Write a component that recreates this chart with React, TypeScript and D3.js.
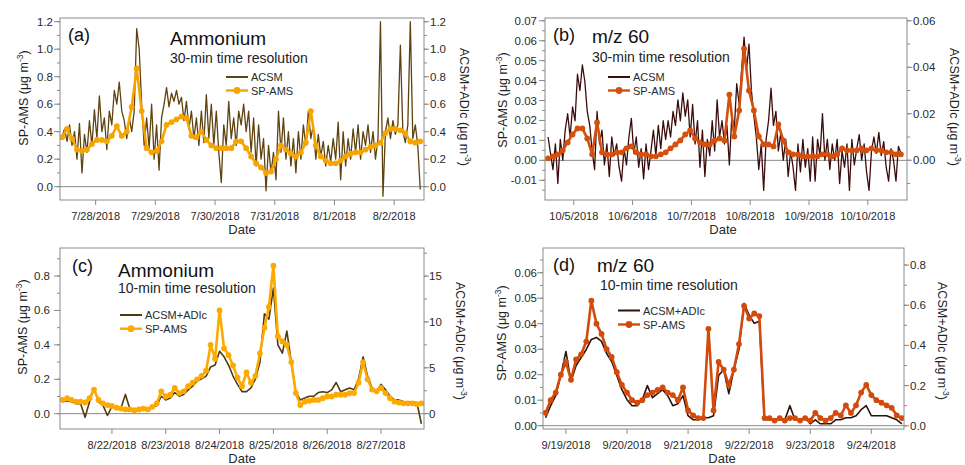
import React from 'react'
import * as d3 from 'd3'

// ---- values ----
// (a) ammonium, 30-min: ACSM hourly from 7/27 10:30, SP-AMS every 2 h
const acsmA = [
  0.36, 0.42, 0.33, 0.45, 0.3, 0.4, 0.2, 0.46, 0.1, 0.38,
  0.25, 0.48, 0.3, 0.56, 0.35, 0.66, 0.4, 0.5, 0.27, 0.55,
  0.45, 0.7, 0.6, 0.76, 0.55, 0.48, 0.35, 0.5, 0.4, 0.55,
  1.15, 1.0, 0.6, 0.3, 0.5, 0.28, 0.6, 0.2, 0.45, 0.12,
  0.5, 0.6, 0.72, 0.58, 0.68, 0.62, 0.7, 0.6, 0.65, 0.48,
  0.62, 0.42, 0.55, 0.35, 0.5, 0.3, 0.55, 0.32, 0.67, 0.35,
  0.6, 0.3, 0.55, 0.25, 0.03, 0.45, 0.3, 0.62, 0.35, 0.5,
  0.3, 0.55, 0.45, 0.6, 0.4, 0.55, 0.25, 0.5, 0.15, 0.45,
  0.2, 0.35, -0.03, 0.3, 0.1, 0.25, 0.05, 0.55, 0.25, 0.5,
  0.2, 0.4, 0.15, 0.35, 0.1, 0.4, 0.2, 0.45, 0.3, 0.55,
  0.35, 0.45, 0.2, 0.38, 0.22, 0.33, 0.15, 0.3, 0.18, 0.35,
  0.2, 0.47, 0.05, 0.4, 0.15, 0.35, 0.2, 0.42, 0.25, 0.45,
  0.2, 0.4, 0.3, 0.45, 0.25, 0.4, 0.2, 0.35, 1.2, -0.07,
  0.4, 0.5, 0.35, 0.48, 0.38, 0.45, 1.03, 0.4, 0.32, 0.45,
  1.2, 0.35, 0.45, 0.3, -0.02,
]
const spamsA = [
  0.36, 0.42, 0.35, 0.27, 0.26, 0.27, 0.31, 0.34, 0.34, 0.33,
  0.37, 0.44, 0.37, 0.4, 0.58, 0.86, 0.55, 0.28, 0.25, 0.26,
  0.33, 0.45, 0.47, 0.49, 0.51, 0.5, 0.37, 0.36, 0.4, 0.34,
  0.3, 0.28, 0.28, 0.28, 0.28, 0.33, 0.33, 0.28, 0.22, 0.17,
  0.14, 0.1, 0.11, 0.2, 0.3, 0.27, 0.24, 0.22, 0.25, 0.32,
  0.55, 0.3, 0.22, 0.19, 0.17, 0.17, 0.19, 0.22, 0.24, 0.25,
  0.25, 0.27, 0.29, 0.3, 0.32, 0.39, 0.42, 0.42, 0.41, 0.39,
  0.33, 0.32, 0.33,
]

// (b) m/z 60, 30-min: ACSM hourly from 10/4 13:30 (right axis), SP-AMS every 2 h
const acsmB = [
  0.010, 0.003, -0.004, 0.007, -0.010, 0.009, 0.0, 0.013, 0.020, 0.010,
  0.023, 0.017, 0.037, 0.030, 0.041, 0.034, 0.021, 0.015, 0.004, -0.004,
  0.021, 0.007, 0.013, -0.002, 0.007, -0.007, 0.010, 0.002, 0.007, -0.003,
  -0.009, 0.005, -0.002, 0.010, 0.018, 0.003, 0.010, -0.003, 0.005, -0.008,
  0.007, -0.004, 0.004, 0.013, 0.002, 0.015, 0.005, 0.017, 0.009, 0.017,
  0.010, 0.021, 0.015, 0.026, 0.017, 0.029, 0.019, 0.026, 0.010, 0.024,
  0.007, 0.017, -0.003, 0.013, -0.007, 0.009, 0.002, 0.017, 0.004, 0.026,
  0.010, 0.017, 0.007, 0.015, -0.002, 0.019, 0.013, 0.033, 0.024, 0.039,
  0.053, 0.039, 0.050, 0.030, 0.019, 0.010, -0.004, 0.007, -0.013, 0.009,
  0.017, 0.031, 0.015, 0.021, 0.004, 0.012, 0.0, 0.009, -0.007, 0.004,
  -0.003, -0.013, 0.007, -0.005, 0.009, -0.003, 0.005, -0.009, 0.010, -0.009,
  0.009, 0.002, 0.020, 0.0, 0.009, -0.004, 0.007, 0.0, 0.009, -0.010,
  0.004, -0.003, 0.007, -0.013, 0.009, -0.002, 0.005, 0.011, 0.0, 0.007,
  -0.005, -0.013, 0.004, 0.010, 0.003, 0.012, 0.002, 0.008, -0.003, -0.009,
  0.005, 0.0, -0.009, 0.006, 0.003,
]
const spamsB = [
  0.001, 0.002, 0.003, 0.005, 0.009, 0.013, 0.016, 0.016, 0.011, 0.003,
  0.019, 0.004, 0.003, 0.003, 0.004, 0.004, 0.006, 0.007, 0.004, 0.003,
  0.003, 0.002, 0.002, 0.003, 0.004, 0.006, 0.008, 0.01, 0.013, 0.015,
  0.011, 0.009, 0.008, 0.008, 0.01, 0.011, 0.01, 0.033, 0.012, 0.025,
  0.056, 0.035, 0.025, 0.012, 0.008, 0.008, 0.007, 0.018, 0.01, 0.004,
  0.003, 0.003, 0.002, 0.002, 0.002, 0.002, 0.003, 0.003, 0.002, 0.003,
  0.006, 0.005, 0.005, 0.005, 0.006, 0.005, 0.006, 0.005, 0.005, 0.004,
  0.004, 0.003, 0.003,
]

// (c) ammonium, 10-min: both every 2 h from 8/21 02:00; ACSM+ADIc on right axis
const acsmC = [
  1.3, 1.4, 1.3, 1.1, 1.1, -0.4, 1.3, 2.8, 1.3, 0.9,
  -0.2, 0.8, 0.6, 0.6, 2.1, 0.5, 0.4, 0.4, 0.5, 0.4,
  0.7, 0.9, 1.9, 1.5, 1.7, 2.3, 1.9, 2.1, 2.6, 3.0,
  3.6, 3.8, 4.1, 5.1, 5.3, 6.8, 6.2, 5.3, 4.1, 3.2,
  2.4, 2.4, 2.8, 3.8, 5.6, 10.9, 10.3, 13.7, 7.5, 6.6,
  9.0, 5.6, 2.3, 1.5, 1.7, 1.9, 1.9, 2.3, 2.4, 2.3,
  2.6, 3.4, 2.4, 2.6, 2.8, 2.6, 3.8, 6.2, 4.1, 2.8,
  2.4, 3.2, 2.6, 1.9, 1.5, 1.5, 1.3, 1.3, 1.3, 1.2,
  -1.1,
]
const spamsC = [
  0.08, 0.09, 0.08, 0.07, 0.07, 0.065, 0.09, 0.14, 0.08, 0.06,
  0.05, 0.045, 0.035, 0.03, 0.025, 0.025, 0.02, 0.025, 0.03, 0.025,
  0.04, 0.06, 0.13, 0.1, 0.11, 0.15, 0.12, 0.13, 0.16, 0.18,
  0.2, 0.22, 0.25, 0.4, 0.32, 0.6, 0.38, 0.34, 0.28, 0.21,
  0.16, 0.24, 0.18, 0.22, 0.35, 0.5, 0.62, 0.86, 0.45, 0.42,
  0.4, 0.3, 0.12, 0.05, 0.07, 0.075, 0.08, 0.08, 0.09, 0.1,
  0.1, 0.11, 0.11, 0.11, 0.12, 0.12, 0.18, 0.3, 0.2, 0.14,
  0.13, 0.15, 0.12, 0.09, 0.07, 0.065, 0.06, 0.06, 0.06, 0.055,
  0.06,
]

// (d) m/z 60, 10-min: both every 2 h from 9/18 16:00; ACSM+ADIc on right axis
const acsmD = [
  0.04, 0.1, 0.15, 0.25, 0.37, 0.22, 0.3, 0.34, 0.38, 0.43,
  0.44, 0.42, 0.36, 0.32, 0.25, 0.18, 0.13, 0.1, 0.1, 0.13,
  0.2, 0.14, 0.16, 0.18, 0.15, 0.1, 0.11, 0.15, 0.05, 0.03,
  0.03, 0.04, 0.04, 0.05, 0.25, 0.28, 0.16, 0.28, 0.38, 0.61,
  0.55, 0.51, 0.52, 0.03, 0.03, 0.03, 0.03, 0.03, 0.1, 0.03,
  0.03, 0.04, 0.01, 0.03, 0.01, 0.01, 0.01, 0.03, 0.03, 0.04,
  0.04, 0.05, 0.08, 0.1, 0.05, 0.05, 0.05, 0.05, 0.04, 0.03,
  0.01,
]
const spamsD = [
  0.005, 0.01, 0.013, 0.02, 0.025, 0.018, 0.026, 0.028, 0.033, 0.049,
  0.04, 0.036, 0.03, 0.027, 0.021, 0.016, 0.013, 0.01, 0.009, 0.01,
  0.012, 0.013, 0.014, 0.015, 0.013, 0.012, 0.01, 0.015, 0.006, 0.004,
  0.003, 0.003, 0.038, 0.006, 0.025, 0.022, 0.016, 0.022, 0.032, 0.047,
  0.042, 0.044, 0.043, 0.003, 0.003, 0.002, 0.003, 0.002, 0.003, 0.003,
  0.002, 0.003, 0.002, 0.005, 0.003, 0.002, 0.003, 0.005, 0.004, 0.008,
  0.005, 0.008, 0.013, 0.016, 0.012, 0.01, 0.009, 0.008, 0.007, 0.004,
  0.003,
]

// axis ticks
const dateTicksA = ['7/28/2018', '7/29/2018', '7/30/2018', '7/31/2018', '8/1/2018', '8/2/2018']
const dateTicksB = ['10/5/2018', '10/6/2018', '10/7/2018', '10/8/2018', '10/9/2018', '10/10/2018']
const dateTicksC = ['8/22/2018', '8/23/2018', '8/24/2018', '8/25/2018', '8/26/2018', '8/27/2018']
const dateTicksD = ['9/19/2018', '9/20/2018', '9/21/2018', '9/22/2018', '9/23/2018', '9/24/2018']
const yTicksA = [0, 0.2, 0.4, 0.6, 0.8, 1.0, 1.2]
const yTicksBLeft = [-0.01, 0, 0.01, 0.02, 0.03, 0.04, 0.05, 0.06, 0.07]
const yTicksBRight = [0, 0.02, 0.04, 0.06]
const yTicksCLeft = [0, 0.2, 0.4, 0.6, 0.8]
const yTicksCRight = [0, 5, 10, 15]
const yTicksDLeft = [0, 0.01, 0.02, 0.03, 0.04, 0.05, 0.06]
const yTicksDRight = [0, 0.2, 0.4, 0.6, 0.8]

const FONT = '"Liberation Sans", Arial, Helvetica, sans-serif'
const parseTick = d3.timeParse('%m/%d/%Y')
const dt = (m: number, d: number, h: number, mi = 0) => new Date(2018, m - 1, d, h, mi)

const panels = [
  {
    id: 'a', l: 60, r: 424, t: 18, b: 200,
    xDomain: [dt(7, 27, 9, 40), dt(8, 2, 12, 0)],
    yLeft: [-0.097, 1.227], yRight: [-0.097, 1.227],
    leftTicks: yTicksA, leftMinor: 0.1, leftFmt: (v: number) => v.toFixed(1), leftGap: 7,
    rightTicks: yTicksA, rightMinor: 0.1, rightFmt: (v: number) => v.toFixed(1), rightGap: 6,
    dateTicks: dateTicksA,
    acsm: { start: dt(7, 27, 10, 30), step: 1, values: acsmA }, acsmW: 1.3,
    sp: { start: dt(7, 27, 10, 30), step: 2, values: spamsA },
    acsmColor: '#5e4210', spColor: '#f6a500',
    tag: '(a)', tagXY: [68, 41], title: 'Ammonium', titleXY: [170, 45],
    sub: '30-min time resolution', subXY: [170, 63],
    legendName: 'ACSM', legX: 226, legY: 77, legDy: 13.5,
    yTitleL: [28, 98], yTitleR: [459.5, 107], dateXY: [242, 234],
  },
  {
    id: 'b', l: 545, r: 907, t: 18, b: 200,
    xDomain: [dt(10, 4, 12, 15), dt(10, 10, 16, 0)],
    yLeft: [-0.0199, 0.0714], yRight: [-0.0171, 0.0612],
    leftTicks: yTicksBLeft, leftMinor: 0.005, leftFmt: (v: number) => v.toFixed(2), leftGap: 8,
    rightTicks: yTicksBRight, rightMinor: 0.01, rightFmt: (v: number) => v.toFixed(2), rightGap: 6,
    dateTicks: dateTicksB,
    acsm: { start: dt(10, 4, 13, 30), step: 1, values: acsmB }, acsmW: 1.3,
    sp: { start: dt(10, 4, 13, 30), step: 2, values: spamsB },
    acsmColor: '#3a0c0c', spColor: '#d3500f',
    tag: '(b)', tagXY: [553, 41], title: 'm/z 60', titleXY: [592, 43],
    sub: '30-min time resolution', subXY: [592, 61.5],
    legendName: 'ACSM', legX: 608, legY: 77, legDy: 13.5,
    yTitleL: [506.5, 100], yTitleR: [950, 107], dateXY: [723, 234],
  },
  {
    id: 'c', l: 60, r: 424, t: 248, b: 429,
    xDomain: [dt(8, 21, 0, 50), dt(8, 27, 19, 10)],
    yLeft: [-0.089, 0.963], yRight: [-1.67, 18.06],
    leftTicks: yTicksCLeft, leftMinor: 0.1, leftFmt: (v: number) => v.toFixed(1), leftGap: 10,
    rightTicks: yTicksCRight, rightMinor: 2.5, rightFmt: (v: number) => String(v), rightGap: 5,
    dateTicks: dateTicksC,
    acsm: { start: dt(8, 21, 2, 0), step: 2, values: acsmC }, acsmW: 1.6,
    sp: { start: dt(8, 21, 2, 0), step: 2, values: spamsC },
    acsmColor: '#4f3a10', spColor: '#fcaa00',
    tag: '(c)', tagXY: [72, 272], title: 'Ammonium', titleXY: [118, 276.5],
    sub: '10-min time resolution', subXY: [118, 293],
    legendName: 'ACSM+ADIc', legX: 120, legY: 315, legDy: 13.7,
    yTitleL: [26.5, 327], yTitleR: [456, 341], dateXY: [242, 463],
  },
  {
    id: 'd', l: 543, r: 904, t: 248, b: 429,
    xDomain: [dt(9, 18, 15, 0), dt(9, 24, 12, 50)],
    yLeft: [-0.0013, 0.0697], yRight: [-0.016, 0.885],
    leftTicks: yTicksDLeft, leftMinor: 0.005, leftFmt: (v: number) => v.toFixed(2), leftGap: 6,
    rightTicks: yTicksDRight, rightMinor: 0.1, rightFmt: (v: number) => v.toFixed(1), rightGap: 6,
    dateTicks: dateTicksD,
    acsm: { start: dt(9, 18, 16, 0), step: 2, values: acsmD }, acsmW: 1.6,
    sp: { start: dt(9, 18, 16, 0), step: 2, values: spamsD },
    acsmColor: '#2c100c', spColor: '#d24b0c',
    tag: '(d)', tagXY: [553, 270.5], title: 'm/z 60', titleXY: [597, 272],
    sub: '10-min time resolution', subXY: [600, 290],
    legendName: 'ACSM+ADIc', legX: 618, legY: 310.5, legDy: 14,
    yTitleL: [506, 333], yTitleR: [937.5, 341], dateXY: [722, 463],
  },
]

type P = (typeof panels)[number]

function minorTicks(domain: number[], step: number) {
  const lo = Math.ceil(domain[0] / step - 1e-9)
  const hi = Math.floor(domain[1] / step + 1e-9)
  return d3.range(lo, hi + 1).map(k => k * step)
}

function UnitLabel({ x, y, rot, text }: { x: number; y: number; rot: number; text: string }) {
  return (
    <text transform={`translate(${x},${y}) rotate(${rot})`} textAnchor="middle" fontSize={12.5} fill="#222">
      {text} (μg m<tspan fontSize={8.5} dy={-5}>-3</tspan><tspan dy={5}>)</tspan>
    </text>
  )
}

function Panel({ p }: { p: P }) {
  const x = d3.scaleTime().domain(p.xDomain).range([p.l, p.r])
  const yL = d3.scaleLinear().domain(p.yLeft).range([p.b, p.t])
  const yR = d3.scaleLinear().domain(p.yRight).range([p.b, p.t])

  const acsmPts = p.acsm.values.map((v, i) => ({ t: d3.timeHour.offset(p.acsm.start, i * p.acsm.step), v }))
  const spPts = p.sp.values.map((v, i) => ({ t: d3.timeHour.offset(p.sp.start, i * p.sp.step), v }))
  const acsmLine = d3.line<{ t: Date; v: number }>().x(d => x(d.t)).y(d => yR(d.v))
  const spLine = d3.line<{ t: Date; v: number }>().x(d => x(d.t)).y(d => yL(d.v))
  const clip = `clip-${p.id}`
  const axisCol = '#8a8a8a'
  const txt = '#2a2a2a'

  return (
    <g fontFamily={FONT}>
      <defs>
        <clipPath id={clip}>
          <rect x={p.l} y={p.t} width={p.r - p.l} height={p.b - p.t} />
        </clipPath>
      </defs>
      <line x1={p.l} x2={p.r} y1={yL(0)} y2={yL(0)} stroke={axisCol} strokeWidth={1} />

      <g clipPath={`url(#${clip})`}>
        <path d={acsmLine(acsmPts) ?? ''} fill="none" stroke={p.acsmColor} strokeWidth={p.acsmW} strokeLinejoin="round" />
        <path d={spLine(spPts) ?? ''} fill="none" stroke={p.spColor} strokeWidth={2.6} strokeLinejoin="round" />
        {spPts.map((d, i) => (
          <circle key={i} cx={x(d.t)} cy={yL(d.v)} r={2.9} fill={p.spColor} />
        ))}
      </g>

      <rect x={p.l} y={p.t} width={p.r - p.l} height={p.b - p.t} fill="none" stroke={axisCol} strokeWidth={1} />

      {/* left axis */}
      {minorTicks(p.yLeft, p.leftMinor).map((v, i) => (
        <line key={'lm' + i} x1={p.l - 3} x2={p.l} y1={yL(v)} y2={yL(v)} stroke={axisCol} />
      ))}
      {p.leftTicks.map(v => (
        <g key={'lt' + v}>
          <line x1={p.l - 6} x2={p.l} y1={yL(v)} y2={yL(v)} stroke={axisCol} />
          <text x={p.l - p.leftGap} y={yL(v) + 4} textAnchor="end" fontSize={11.5} fill={txt}>{p.leftFmt(v)}</text>
        </g>
      ))}

      {/* right axis */}
      {minorTicks(p.yRight, p.rightMinor).map((v, i) => (
        <line key={'rm' + i} x1={p.r} x2={p.r + 3} y1={yR(v)} y2={yR(v)} stroke={axisCol} />
      ))}
      {p.rightTicks.map(v => (
        <g key={'rt' + v}>
          <line x1={p.r} x2={p.r + 5} y1={yR(v)} y2={yR(v)} stroke={axisCol} />
          <text x={p.r + p.rightGap} y={yR(v) + 4} textAnchor="start" fontSize={11.5} fill={txt}>{p.rightFmt(v)}</text>
        </g>
      ))}

      {/* bottom axis */}
      {p.dateTicks.map(lbl => {
        const px = x(parseTick(lbl) as Date)
        return (
          <g key={lbl}>
            <line x1={px} x2={px} y1={p.b} y2={p.b + 5} stroke={axisCol} />
            <text x={px} y={p.b + 20} textAnchor="middle" fontSize={11} fill={txt}>{lbl}</text>
          </g>
        )
      })}
      <text x={p.dateXY[0]} y={p.dateXY[1]} textAnchor="middle" fontSize={13} fill={txt}>Date</text>

      <UnitLabel x={p.yTitleL[0]} y={p.yTitleL[1]} rot={-90} text="SP-AMS" />
      <UnitLabel x={p.yTitleR[0]} y={p.yTitleR[1]} rot={90} text="ACSM+ADIc" />

      {/* titles */}
      <text x={p.tagXY[0]} y={p.tagXY[1]} fontSize={18} fill="#111">{p.tag}</text>
      <text x={p.titleXY[0]} y={p.titleXY[1]} fontSize={19} fill="#111">{p.title}</text>
      <text x={p.subXY[0]} y={p.subXY[1]} fontSize={14} fill="#222">{p.sub}</text>

      {/* legend */}
      <line x1={p.legX} x2={p.legX + 22} y1={p.legY} y2={p.legY} stroke={p.acsmColor} strokeWidth={2} />
      <text x={p.legX + 25} y={p.legY + 4} fontSize={11} fill={txt}>{p.legendName}</text>
      <line x1={p.legX} x2={p.legX + 22} y1={p.legY + p.legDy} y2={p.legY + p.legDy} stroke={p.spColor} strokeWidth={2.4} />
      <circle cx={p.legX + 11} cy={p.legY + p.legDy} r={3.4} fill={p.spColor} />
      <text x={p.legX + 25} y={p.legY + p.legDy + 4} fontSize={11} fill={txt}>SP-AMS</text>
    </g>
  )
}

export default function App() {
  return (
    <svg width={965} height={465} style={{ position: 'absolute', left: 0, top: 0, background: '#fff' }}>
      <rect width={965} height={465} fill="#fff" />
      {panels.map(p => (
        <Panel key={p.id} p={p} />
      ))}
    </svg>
  )
}
